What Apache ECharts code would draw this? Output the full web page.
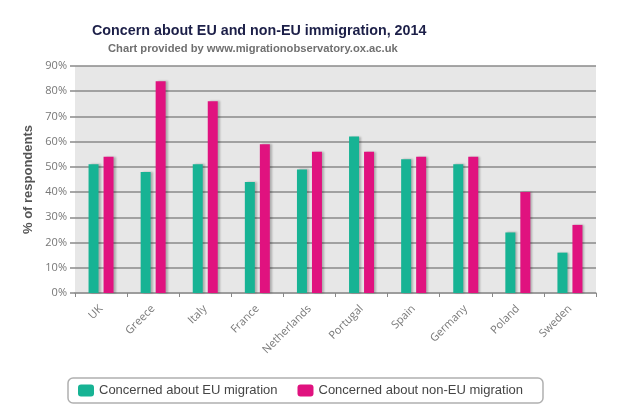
<!DOCTYPE html>
<html>
<head>
<meta charset="utf-8">
<script src="https://cdn.jsdelivr.net/npm/echarts@6/dist/echarts.min.js"></script>
<style>html,body{margin:0;padding:0;background:#fff}#c{width:620px;height:420px}</style>
</head>
<body>
<div id="c"></div>
<script>
const countries = ['UK','Greece','Italy','France','Netherlands','Portugal','Spain','Germany','Poland','Sweden'];
const euMigration = [51, 48, 51, 44, 49, 62, 53, 51, 24, 16];
const nonEuMigration = [54, 84, 76, 59, 56, 56, 54, 54, 40, 27];
const seriesNames = ['Concerned about EU migration', 'Concerned about non-EU migration'];

const chart = echarts.init(document.getElementById('c'));
const barStyle = (color) => ({
  color: color,
  shadowColor: 'rgba(0,0,0,0.25)',
  shadowBlur: 2,
  shadowOffsetX: 2,
  shadowOffsetY: 0
});
chart.setOption({
  animation: false,
  title: [
    {text: 'Concern about EU and non-EU immigration, 2014', left: 87, top: 19,
     textStyle: {fontFamily: 'Liberation Sans, Arial', fontSize: 14.3, fontWeight: 'bold', color: '#1c1f48'}},
    {text: 'Chart provided by www.migrationobservatory.ox.ac.uk', left: 103, top: 38,
     textStyle: {fontFamily: 'Liberation Sans, Arial', fontSize: 11.2, fontWeight: 'bold', color: '#707070'}}
  ],
  grid: {left: 75, right: 24, top: 66, bottom: 127, show: true, backgroundColor: '#e7e7e7', borderWidth: 0},
  legend: {
    left: 68, top: 378, orient: 'horizontal',
    padding: [6, 20, 6, 10],
    borderColor: '#b0b0b0', borderWidth: 1.5, borderRadius: 5,
    itemWidth: 16, itemHeight: 12, itemGap: 20,
    icon: 'roundRect',
    textStyle: {fontFamily: 'Liberation Sans, Arial', fontSize: 13, color: '#454545'},
    data: seriesNames
  },
  xAxis: {
    type: 'category', data: countries,
    axisLine: {lineStyle: {color: '#9a9a9a', width: 1.5}},
    axisTick: {show: true, length: 4, lineStyle: {color: '#888'}},
    axisLabel: {interval: 0, rotate: 45, fontFamily: 'Open Sans, Noto Sans, sans-serif', fontSize: 11, color: '#787878', margin: 14}
  },
  yAxis: {
    type: 'value', min: 0, max: 90, interval: 10,
    name: '% of respondents', nameLocation: 'middle', nameRotate: 90, nameGap: 40,
    nameTextStyle: {fontFamily: 'Liberation Sans, Arial', fontSize: 13, fontWeight: 'bold', color: '#555'},
    axisLine: {show: false},
    axisTick: {show: true, length: 5, lineStyle: {color: '#8a8a8a', width: 1.5}},
    axisLabel: {formatter: '{value}%', fontFamily: 'Open Sans, Noto Sans, sans-serif', fontSize: 11, color: '#777', margin: 8},
    splitLine: {lineStyle: {color: '#8a8a8a', width: 1.5}}
  },
  series: [
    {name: seriesNames[0], type: 'bar', data: euMigration, barWidth: 10, barGap: '50%', itemStyle: barStyle('#17b394')},
    {name: seriesNames[1], type: 'bar', data: nonEuMigration, barWidth: 10, itemStyle: barStyle('#e0127f')}
  ]
});
</script>
</body>
</html>
